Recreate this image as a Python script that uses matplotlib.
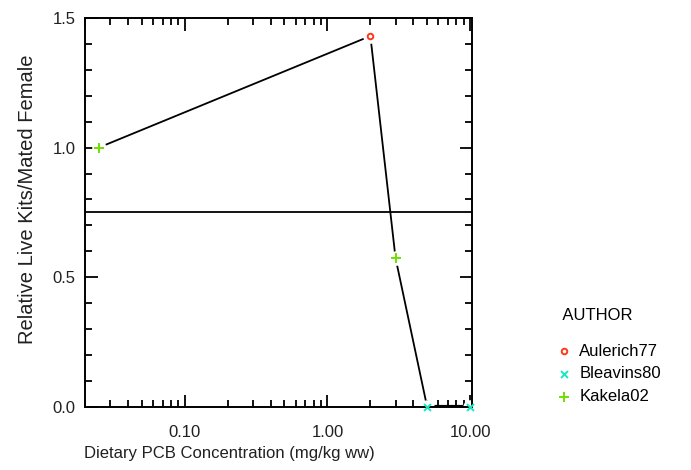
import numpy as np
import matplotlib
matplotlib.use("Agg")
import matplotlib.pyplot as plt
from matplotlib.ticker import FixedLocator, NullFormatter, MultipleLocator

plt.rcParams['font.family'] = ['Liberation Sans', 'DejaVu Sans']

# data
line_x = [0.025, 2.0, 3.0, 5.0, 10.0]
line_y = [1.0, 1.43, 0.575, 0.0, 0.0]

authors = ["Aulerich77", "Bleavins80", "Kakela02"]
author_x = [[2.0], [5.0, 10.0], [0.025, 3.0]]
author_y = [[1.43], [0.0, 0.0], [1.0, 0.575]]
markers = ["o", "x", "+"]
colors = ["#ff3818", "#18e8c0", "#6ee000"]

threshold = 0.75

fig = plt.figure(figsize=(6.91, 4.70), dpi=100)
ax = fig.add_axes([0.123, 0.134, 0.560, 0.828])

ax.plot(line_x, line_y, color="black", lw=1.3, zorder=2)
ax.plot(line_x[3:], line_y[3:], color="black", lw=3, zorder=2)
ax.axhline(threshold, color="black", lw=1.3, zorder=1)

# white blobs under the markers so the line stops short of them
all_x = [x for xs in author_x for x in xs]
all_y = [y for ys in author_y for y in ys]
ax.scatter(all_x, all_y, marker="o", s=90, color="white", zorder=2.5, clip_on=False)

for name, xs, ys, m, c in zip(authors, author_x, author_y, markers, colors):
    if m == "o":
        ax.scatter(xs, ys, marker=m, s=16, facecolors="white", edgecolors=c,
                   linewidths=1.4, label=name, zorder=3, clip_on=False)
    else:
        ax.scatter(xs, ys, marker=m, s=50 if m == "+" else 25, color=c,
                   linewidths=1.4, label=name, zorder=3, clip_on=False)

ax.set_xscale("log")
ax.set_xlim(0.02, 10.3)
ax.set_ylim(0, 1.5)

ax.xaxis.set_major_locator(FixedLocator([0.1, 1.0, 10.0]))
ax.set_xticklabels(["0.10", "1.00", "10.00"])
minors = [k * 10.0 ** e for e in (-2, -1, 0) for k in range(2, 10)]
ax.xaxis.set_minor_locator(FixedLocator(minors))
ax.xaxis.set_minor_formatter(NullFormatter())
ax.yaxis.set_major_locator(MultipleLocator(0.5))
ax.yaxis.set_minor_locator(MultipleLocator(0.1))
ax.yaxis.set_major_formatter(plt.FuncFormatter(lambda v, p: f"{v:.1f}"))

ax.tick_params(which="both", direction="in", top=True, right=True, labelsize=12,
               labelcolor="#202020", width=1.3)
ax.tick_params(which="major", length=9, pad=7)
ax.tick_params(axis="x", which="major", pad=13)
ax.tick_params(which="minor", length=5)
for s in ax.spines.values():
    s.set_linewidth(1.4)

ax.set_xlabel("Dietary PCB Concentration (mg/kg ww)", fontsize=12, labelpad=7,
              color="#202020")
ax.xaxis.set_label_coords(0.372, -0.1)
ax.set_ylabel("Relative Live Kits/Mated Female", fontsize=14.5, labelpad=4,
              color="#202020")
ax.yaxis.set_label_coords(-0.125, 0.535)

leg = ax.legend(title="  AUTHOR\n", loc="upper left", bbox_to_anchor=(0.79, 0.363),
                bbox_transform=fig.transFigure, frameon=False, fontsize=12,
                title_fontsize=12, handletextpad=0.3, labelspacing=0.47,
                handlelength=1.2, borderpad=0)
leg._legend_box.align = "left"
# pull the title's blank line in a bit so the entries sit closer to it
leg._legend_box.sep = 2.5

fig.savefig("out.png", dpi=100)
